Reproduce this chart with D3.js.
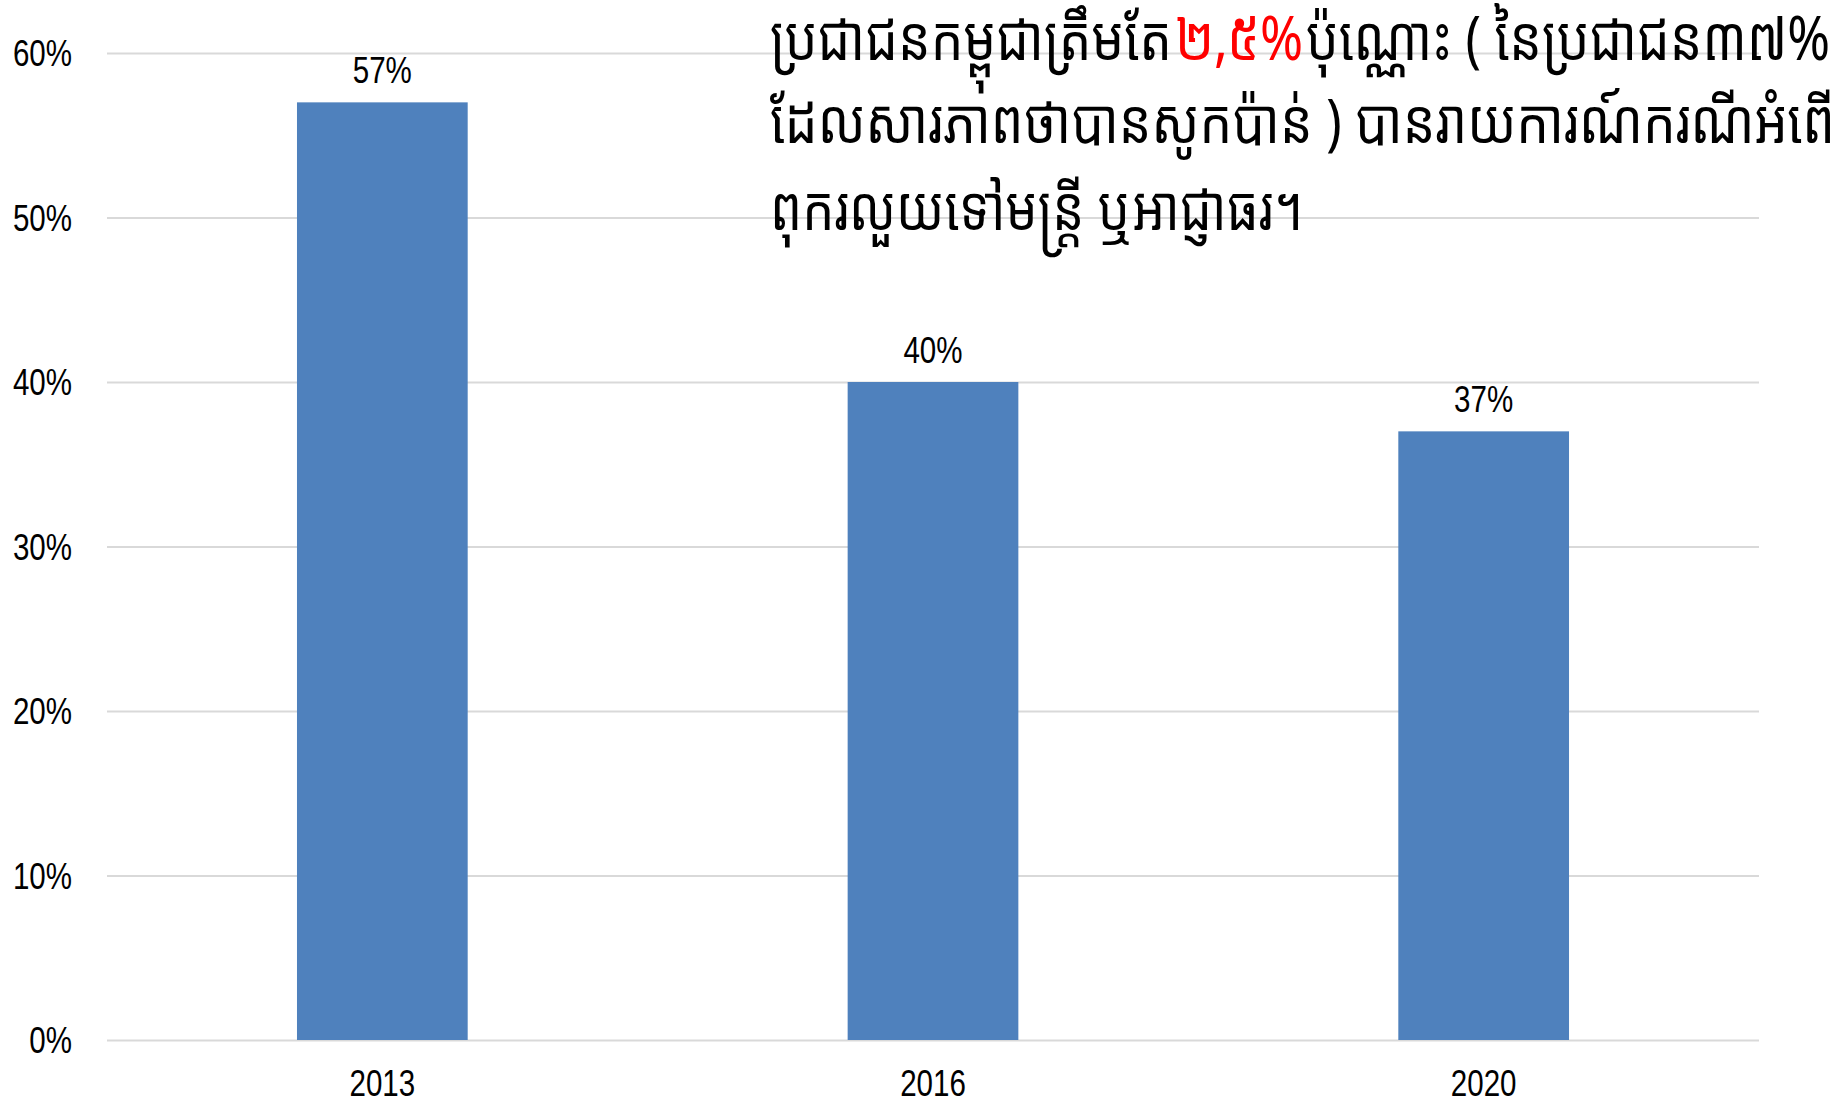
<!DOCTYPE html>
<html>
<head>
<meta charset="utf-8">
<script src="https://cdn.jsdelivr.net/npm/d3@7"></script>
<style>
  body { margin: 0; background: #fff; }
  svg text { font-family: "Liberation Sans", Arial, sans-serif; fill: #000; }
  .note text { font-family: "Khmer OS System", "Khmer OS", "Noto Sans Khmer", "Khmer UI", sans-serif; }
</style>
</head>
<body>
<svg id="chart"></svg>
<script>
const years = ["2013", "2016", "2020"];
const shares = [0.57, 0.40, 0.37];
const yTicks = [0, 0.1, 0.2, 0.3, 0.4, 0.5, 0.6];

// note pieces: text, line, start x, width; the red one is the 2.5% figure
const noteTexts = [
  "ប្រជាជនកម្ពុជាត្រឹមតែ",
  "២,៥%",
  "ប៉ុណ្ណោះ ( នៃប្រជាជន៣៧%",
  "ដែលសារភាពថាបានសូកប៉ាន់ ) បានរាយការណ៍ករណីអំពើ",
  "ពុករលួយទៅមន្ត្រី ឬអាជ្ញាធរ។"
];
const noteLine = [0, 0, 0, 1, 2];
const noteX = [770, 1175, 1306, 770, 770];
const noteW = [402, 128, 524, 1065, 533];
const noteRed = [false, true, false, false, false];
const noteBaselines = [60, 143, 230];

const width = 1839, height = 1103;
const margin = { left: 107, right: 80, top: 53, bottom: 63 };

const svg = d3.select("#chart")
    .attr("width", width)
    .attr("height", height);

const data = years.map((y, i) => ({ year: y, value: shares[i] }));

const x = d3.scaleBand()
    .domain(years)
    .range([margin.left, width - margin.right])
    .paddingInner(0.69)
    .paddingOuter(0.345);

const y = d3.scaleLinear()
    .domain([0, 0.6])
    .range([height - margin.bottom, margin.top]);

const plotW = width - margin.left - margin.right;

// squeeze arial into an arial-narrow look
function narrow(sel) {
  sel.each(function() {
    const w = this.getComputedTextLength();
    d3.select(this)
      .attr("textLength", w * 0.82)
      .attr("lengthAdjust", "spacingAndGlyphs");
  });
}

// y axis + gridlines
const yAxisG = svg.append("g")
    .attr("transform", `translate(${margin.left},0)`)
    .call(d3.axisLeft(y)
      .tickValues(yTicks)
      .tickFormat(d3.format(".0%"))
      .tickSizeInner(-plotW)
      .tickSizeOuter(0)
      .tickPadding(35));
yAxisG.select(".domain").remove();
yAxisG.selectAll(".tick line")
    .attr("stroke", "#d9d9d9")
    .attr("stroke-width", 2);
yAxisG.selectAll(".tick text")
    .attr("font-size", 36)
    .attr("dy", "0.36em")
    .call(narrow);

// bars
svg.append("g").selectAll("rect")
    .data(data)
    .enter()
    .append("rect")
    .attr("x", d => x(d.year))
    .attr("y", d => y(d.value))
    .attr("width", x.bandwidth())
    .attr("height", d => y(0) - y(d.value))
    .attr("fill", "#4f81bd");

// value labels
svg.append("g").selectAll("text")
    .data(data)
    .enter()
    .append("text")
    .attr("x", d => x(d.year) + x.bandwidth() / 2)
    .attr("y", d => y(d.value) - 19)
    .attr("text-anchor", "middle")
    .attr("font-size", 36)
    .text(d => d3.format(".0%")(d.value))
    .call(narrow);

// x axis
const xAxisG = svg.append("g")
    .attr("transform", `translate(0,${y(0)})`)
    .call(d3.axisBottom(x).tickSize(0).tickPadding(30));
xAxisG.select(".domain").remove();
xAxisG.selectAll(".tick text")
    .attr("font-size", 36)
    .call(narrow);

// khmer note at top right
svg.append("g").attr("class", "note")
  .selectAll("text")
  .data(noteTexts)
  .enter()
  .append("text")
    .attr("x", (d, i) => noteX[i])
    .attr("y", (d, i) => noteBaselines[noteLine[i]])
    .attr("font-size", 62)
    .attr("textLength", (d, i) => noteW[i])
    .attr("lengthAdjust", "spacingAndGlyphs")
    .style("fill", (d, i) => noteRed[i] ? "#ff0000" : "#000")
    .text(d => d);
</script>
</body>
</html>
